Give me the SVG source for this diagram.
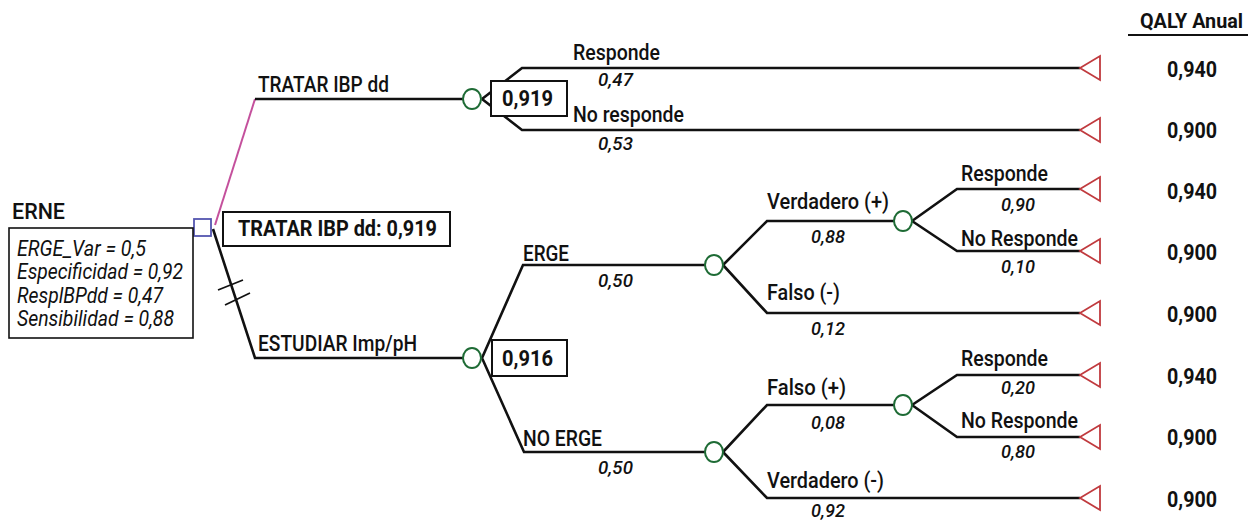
<svg xmlns="http://www.w3.org/2000/svg" width="1248" height="521" viewBox="0 0 1248 521">
<style>
text{font-family:Roboto,"Liberation Sans",Arial,sans-serif;fill:#111}
.lbl{font-size:22.5px;font-weight:500}
.prb{font-size:19px;font-style:italic;font-weight:500}
.par{font-size:21.5px;font-style:italic}
.bld{font-size:22.5px;font-weight:bold}
.val{font-size:22.5px;font-weight:bold}
.hdr{font-size:21px;font-weight:bold}
.br{fill:none;stroke:#111;stroke-width:2.6;stroke-linejoin:miter}
.ch{fill:#fff;stroke:#1e6b35;stroke-width:2}
.term{fill:#fff;stroke:#c03a3e;stroke-width:1.8}
.box{fill:#fff;stroke:#111;stroke-width:2}
</style>
<g id="connectors">
<path d="M215,225 L255,99" fill="none" stroke="#c4509c" stroke-width="2"/>
<path class="br" d="M255,99 L463,99"/>
<path class="br" d="M213,229 L255,358 L463,358"/>
<path d="M218,290 L243,280 M225,305 L250,293" stroke="#111" stroke-width="1.8"/>
<path class="br" d="M482,99 L522,68 L1080,68 M482,99 L522,130 L1080,130"/>
<path class="br" d="M482,358 L523,265 L705,265 M482,358 L524,452 L705,452"/>
<path class="br" d="M723,265 L767,221 L894,221 M723,265 L767,313 L1080,313"/>
<path class="br" d="M912,221 L957,189 L1080,189 M912,221 L957,251 L1080,251"/>
<path class="br" d="M723,452 L767,405 L894,405 M723,452 L767,498 L1080,498"/>
<path class="br" d="M912,405 L957,375 L1080,375 M912,405 L957,437 L1080,437"/>
</g>
<g id="root">
<rect x="194" y="219" width="17" height="17" fill="#fff" stroke="#5456b0" stroke-width="1.8"/>
<text class="lbl" x="12" y="219" textLength="53" lengthAdjust="spacingAndGlyphs">ERNE</text>
<rect x="9" y="228" width="184" height="110" fill="#fff" stroke="#111" stroke-width="1.6"/>
<text class="par" x="17" y="256" textLength="129" lengthAdjust="spacingAndGlyphs">ERGE_Var = 0,5</text>
<text class="par" x="17" y="279" textLength="166" lengthAdjust="spacingAndGlyphs">Especificidad = 0,92</text>
<text class="par" x="17" y="303" textLength="146" lengthAdjust="spacingAndGlyphs">ResplBPdd = 0,47</text>
<text class="par" x="17" y="326" textLength="157" lengthAdjust="spacingAndGlyphs">Sensibilidad = 0,88</text>
<rect class="box" x="223" y="212" width="227" height="34"/>
<text class="bld" x="238" y="236" textLength="199" lengthAdjust="spacingAndGlyphs">TRATAR IBP dd: 0,919</text>
</g>
<g id="tratar">
<text class="lbl" x="258" y="92" textLength="131" lengthAdjust="spacingAndGlyphs">TRATAR IBP dd</text>
<ellipse class="ch" cx="472" cy="99" rx="9" ry="10"/>
<rect class="box" x="491" y="81" width="76" height="35"/>
<text class="bld" x="502" y="106" textLength="51" lengthAdjust="spacingAndGlyphs">0,919</text>
</g>
<g id="tratar-responde">
<text class="lbl" x="573" y="60" textLength="87" lengthAdjust="spacingAndGlyphs">Responde</text>
<text class="prb" x="598" y="86" textLength="35" lengthAdjust="spacingAndGlyphs">0,47</text>
<path class="term" d="M1080,68 L1100,56 L1100,80 Z"/>
</g>
<g id="tratar-noresponde">
<text class="lbl" x="573" y="122" textLength="111" lengthAdjust="spacingAndGlyphs">No responde</text>
<text class="prb" x="598" y="150" textLength="35" lengthAdjust="spacingAndGlyphs">0,53</text>
<path class="term" d="M1080,130 L1100,118 L1100,142 Z"/>
</g>
<g id="estudiar">
<text class="lbl" x="258" y="351" textLength="159" lengthAdjust="spacingAndGlyphs">ESTUDIAR Imp/pH</text>
<ellipse class="ch" cx="472" cy="358" rx="9" ry="10"/>
<rect class="box" x="492" y="340" width="75" height="36"/>
<text class="bld" x="502" y="366" textLength="51" lengthAdjust="spacingAndGlyphs">0,916</text>
</g>
<g id="erge">
<text class="lbl" x="523" y="261" textLength="46" lengthAdjust="spacingAndGlyphs">ERGE</text>
<text class="prb" x="598" y="287" textLength="35" lengthAdjust="spacingAndGlyphs">0,50</text>
<ellipse class="ch" cx="714" cy="265" rx="9" ry="10"/>
</g>
<g id="erge-verdadero">
<text class="lbl" x="767" y="209" textLength="122" lengthAdjust="spacingAndGlyphs">Verdadero (+)</text>
<text class="prb" x="811" y="243" textLength="34" lengthAdjust="spacingAndGlyphs">0,88</text>
<ellipse class="ch" cx="903" cy="221" rx="9" ry="10"/>
</g>
<g id="erge-vp-responde">
<text class="lbl" x="961" y="181" textLength="87" lengthAdjust="spacingAndGlyphs">Responde</text>
<text class="prb" x="1001" y="211" textLength="34" lengthAdjust="spacingAndGlyphs">0,90</text>
<path class="term" d="M1080,189 L1100,177 L1100,201 Z"/>
</g>
<g id="erge-vp-noresponde">
<text class="lbl" x="961" y="246" textLength="117" lengthAdjust="spacingAndGlyphs">No Responde</text>
<text class="prb" x="1001" y="273" textLength="34" lengthAdjust="spacingAndGlyphs">0,10</text>
<path class="term" d="M1080,251 L1100,239 L1100,263 Z"/>
</g>
<g id="erge-falso">
<text class="lbl" x="767" y="300" textLength="73" lengthAdjust="spacingAndGlyphs">Falso (-)</text>
<text class="prb" x="811" y="335" textLength="34" lengthAdjust="spacingAndGlyphs">0,12</text>
<path class="term" d="M1080,313 L1100,301 L1100,325 Z"/>
</g>
<g id="noerge">
<text class="lbl" x="523" y="446" textLength="79" lengthAdjust="spacingAndGlyphs">NO ERGE</text>
<text class="prb" x="598" y="474" textLength="35" lengthAdjust="spacingAndGlyphs">0,50</text>
<ellipse class="ch" cx="714" cy="452" rx="9" ry="10"/>
</g>
<g id="noerge-falso">
<text class="lbl" x="767" y="395" textLength="79" lengthAdjust="spacingAndGlyphs">Falso (+)</text>
<text class="prb" x="811" y="429" textLength="34" lengthAdjust="spacingAndGlyphs">0,08</text>
<ellipse class="ch" cx="903" cy="405" rx="9" ry="10"/>
</g>
<g id="noerge-fp-responde">
<text class="lbl" x="961" y="366" textLength="87" lengthAdjust="spacingAndGlyphs">Responde</text>
<text class="prb" x="1001" y="394" textLength="34" lengthAdjust="spacingAndGlyphs">0,20</text>
<path class="term" d="M1080,375 L1100,363 L1100,387 Z"/>
</g>
<g id="noerge-fp-noresponde">
<text class="lbl" x="961" y="428" textLength="117" lengthAdjust="spacingAndGlyphs">No Responde</text>
<text class="prb" x="1001" y="458" textLength="34" lengthAdjust="spacingAndGlyphs">0,80</text>
<path class="term" d="M1080,437 L1100,425 L1100,449 Z"/>
</g>
<g id="noerge-verdadero">
<text class="lbl" x="767" y="488" textLength="117" lengthAdjust="spacingAndGlyphs">Verdadero (-)</text>
<text class="prb" x="811" y="517" textLength="34" lengthAdjust="spacingAndGlyphs">0,92</text>
<path class="term" d="M1080,498 L1100,486 L1100,510 Z"/>
</g>
<g id="qaly">
<text class="hdr" x="1243" y="28" text-anchor="end" textLength="103" lengthAdjust="spacingAndGlyphs">QALY Anual</text>
<line x1="1128" y1="35" x2="1248" y2="35" stroke="#111" stroke-width="2"/>
<text class="val" x="1167" y="77" textLength="50" lengthAdjust="spacingAndGlyphs">0,940</text>
<text class="val" x="1167" y="138" textLength="50" lengthAdjust="spacingAndGlyphs">0,900</text>
<text class="val" x="1167" y="199" textLength="50" lengthAdjust="spacingAndGlyphs">0,940</text>
<text class="val" x="1167" y="260" textLength="50" lengthAdjust="spacingAndGlyphs">0,900</text>
<text class="val" x="1167" y="322" textLength="50" lengthAdjust="spacingAndGlyphs">0,900</text>
<text class="val" x="1167" y="384" textLength="50" lengthAdjust="spacingAndGlyphs">0,940</text>
<text class="val" x="1167" y="445" textLength="50" lengthAdjust="spacingAndGlyphs">0,900</text>
<text class="val" x="1167" y="507" textLength="50" lengthAdjust="spacingAndGlyphs">0,900</text>
</g>
</svg>
